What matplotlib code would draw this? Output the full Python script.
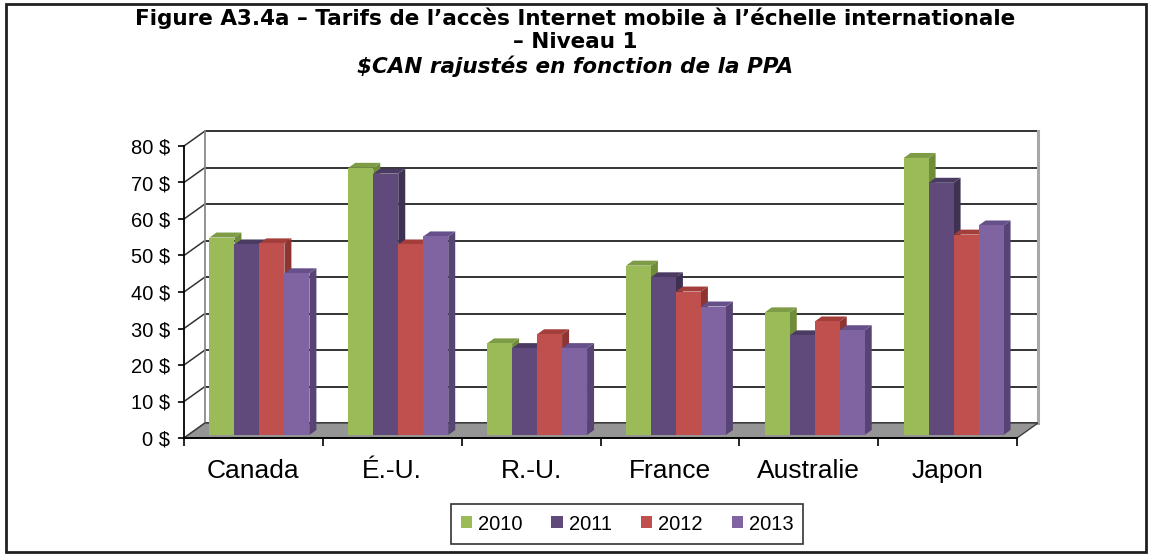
import matplotlib
matplotlib.use("Agg")
import matplotlib.pyplot as plt
from matplotlib.patches import Polygon, Rectangle, Patch
from matplotlib.lines import Line2D

plt.rcParams['font.family'] = ['Liberation Sans', 'DejaVu Sans']
plt.rcParams['text.parse_math'] = False

# ---------------- data ----------------
categories = ["Canada", "É.-U.", "R.-U.", "France", "Australie", "Japon"]
years = ["2010", "2011", "2012", "2013"]
v2010 = [54.1, 73.2, 25.1, 46.4, 33.6, 75.9]
v2011 = [52.2, 71.6, 23.8, 43.2, 27.3, 69.1]
v2012 = [52.5, 52.2, 27.6, 39.3, 31.1, 54.9]
v2013 = [44.3, 54.4, 23.8, 35.2, 28.7, 57.4]
series = [v2010, v2011, v2012, v2013]
yticks = [0, 10, 20, 30, 40, 50, 60, 70, 80]
ytick_labels = [f"{t} $" for t in yticks]

title1 = "Figure A3.4a – Tarifs de l’accès Internet mobile à l’échelle internationale"
title2 = "– Niveau 1"
title3 = "$CAN rajustés en fonction de la PPA"

front_cols = ["#9BBB59", "#604A7B", "#C0504D", "#8064A2"]
side_cols = ["#6E8C3A", "#3F3152", "#8E3432", "#574374"]
top_cols = ["#7D9C45", "#4B3A62", "#A33E3B", "#65508A"]

# ---------------- layout ----------------
W, H, DPI = 1151, 556, 100
fig = plt.figure(figsize=(W / DPI, H / DPI), dpi=DPI)
fig.patch.set_facecolor("white")

ax_l, ax_r, ax_b, ax_t = 184, 1017, 438, 146   # pixel positions of front plane
ax = fig.add_axes([ax_l / W, (H - ax_b) / H, (ax_r - ax_l) / W, (ax_b - ax_t) / H])
ncat = len(categories)
ax.set_xlim(0, ncat)
ax.set_ylim(0, 80)
ax.patch.set_visible(False)

# pixel -> data conversion for offsets
px_x = (ax_r - ax_l) / ncat
px_y = (ax_b - ax_t) / 80.0
def off(dx_px, dy_px):
    return dx_px / px_x, dy_px / px_y

DDX, DDY = off(21, 15)        # full depth of the chart
BOX, BOY = off(6, 3)          # bar front plane offset
BDX, BDY = off(7, 5)          # bar depth

grid_col = "#333333"
# back wall gridlines + side wall diagonals
for t in yticks:
    ax.add_line(Line2D([DDX, ncat + DDX], [t + DDY, t + DDY], color=grid_col, lw=1.4,
                       zorder=1, clip_on=False))
    ax.add_line(Line2D([0, DDX], [t, t + DDY], color=grid_col, lw=1.1,
                       zorder=1, clip_on=False))
# wall edges
ax.add_line(Line2D([DDX, DDX], [DDY, 80 + DDY], color="#8a8a8a", lw=1.3, zorder=1, clip_on=False))
ax.add_line(Line2D([ncat + DDX, ncat + DDX], [DDY, 80 + DDY], color="#a8a8a8", lw=2.2, zorder=1, clip_on=False))

# floor
floor = Polygon([(0, 0), (ncat, 0), (ncat + DDX, DDY), (DDX, DDY)], closed=True,
                facecolor="#959595", edgecolor="#404040", lw=1.0, zorder=1.5, clip_on=False)
ax.add_patch(floor)

# bars
bw = 0.18
gstart = 0.14
for i, vals in enumerate(series):
    xs = [c + gstart + i * bw + BOX for c in range(ncat)]
    z = 3 + i * 0.1
    for x0, v in zip(xs, vals):
        x1 = x0 + bw
        side = Polygon([(x1, BOY), (x1, v + BOY), (x1 + BDX, v + BOY + BDY), (x1 + BDX, BOY + BDY)],
                       closed=True, facecolor=side_cols[i], edgecolor="none", zorder=z, clip_on=False)
        top = Polygon([(x0, v + BOY), (x1, v + BOY), (x1 + BDX, v + BOY + BDY), (x0 + BDX, v + BOY + BDY)],
                      closed=True, facecolor=top_cols[i], edgecolor="none", zorder=z, clip_on=False)
        ax.add_patch(side)
        ax.add_patch(top)
    ax.bar(xs, vals, width=bw, bottom=BOY, align="edge", color=front_cols[i],
           edgecolor="none", zorder=z + 0.05, clip_on=False)

# axes / ticks
for s in ["top", "right"]:
    ax.spines[s].set_visible(False)
for s in ["left", "bottom"]:
    ax.spines[s].set_color("black")
    ax.spines[s].set_linewidth(1.3)
    ax.spines[s].set_zorder(2)

ax.set_yticks(yticks)
ax.set_yticklabels(ytick_labels, fontsize=14.5)
ax.tick_params(axis="y", direction="out", length=4, width=1.2, pad=6, colors="black")

ax.set_xticks(range(ncat + 1))
ax.set_xticklabels([""] * (ncat + 1))
ax.tick_params(axis="x", which="major", direction="out", length=6, width=1.2)
ax.set_xticks([c + 0.5 for c in range(ncat)], minor=True)
ax.set_xticklabels(categories, minor=True, fontsize=19)
ax.tick_params(axis="x", which="minor", length=0, pad=15)

# titles
tfam = ['DejaVu Sans']
fig.text(0.5, 1 - 18 / H, title1, ha="center", va="center", fontsize=15.5, fontweight="bold",
         family=tfam)
fig.text(0.5, 1 - 42 / H, title2, ha="center", va="center", fontsize=15.5, fontweight="bold",
         family=tfam)
fig.text(0.5, 1 - 66 / H, title3, ha="center", va="center", fontsize=15.5, fontweight="bold",
         style="italic", family=tfam)

# legend
handles = [Patch(facecolor=c, edgecolor="none") for c in front_cols]
leg = fig.legend(handles, years, loc="center", bbox_to_anchor=(627 / W, 1 - 524 / H),
                 ncol=4, fontsize=14.5, frameon=True, fancybox=False, handlelength=0.55,
                 handleheight=0.55, handletextpad=0.3, columnspacing=1.45, borderpad=0.5)
leg.get_frame().set_edgecolor("black")
leg.get_frame().set_linewidth(1.2)

# outer border
fig.add_artist(Rectangle((6 / W, 4 / H), 1140 / W, 548 / H, transform=fig.transFigure,
                         fill=False, edgecolor="#202020", lw=2))

fig.savefig("out.png", dpi=DPI)
